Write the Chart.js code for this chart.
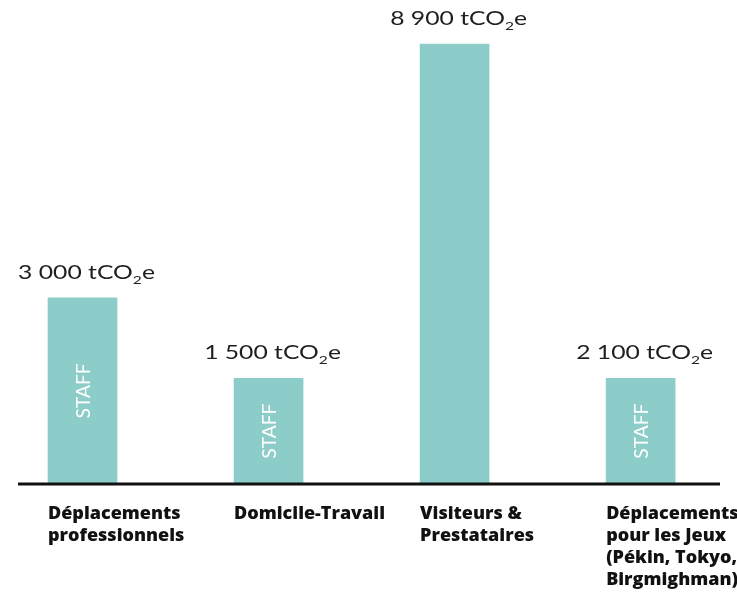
<!DOCTYPE html>
<html>
<head>
<meta charset="utf-8">
<script src="https://cdn.jsdelivr.net/npm/chart.js@4.4.0/dist/chart.umd.min.js"></script>
<style>
  html, body { margin: 0; padding: 0; background: #fff; }
  #wrap { width: 737px; height: 597px; }
</style>
</head>
<body>
<div id="wrap"><canvas id="chart"></canvas></div>
<script>
// categories, each one split in the lines shown under the axis
const categories = [
    ['Déplacements', 'professionnels'],
    ['Domicile-Travail'],
    ['Visiteurs &', 'Prestataires'],
    ['Déplacements', 'pour les Jeux', '(Pékin, Tokyo,', 'Birgmighman)']
];
// value written above each bar (tCO2e)
const emissions = [3000, 1500, 8900, 2100];
// bar heights as drawn in the picture (tallest bar = 100), not proportional to the values
const barHeights = [42.3, 24, 100, 24];
// text inside the bars
const insideLabels = ['STAFF', 'STAFF', '', 'STAFF'];

const barColor = '#8dcdc9';

function fmt(v)
{
    return String(v).replace(/\B(?=(\d{3})+(?!\d))/g, ' ');
}

const labelsPlugin = {
    id: 'labelsPlugin',
    afterDatasetsDraw(chart)
    {
        const ctx = chart.ctx;
        const meta = chart.getDatasetMeta(0);
        const base = chart.scales.y.getPixelForValue(0);

        // axis line
        ctx.save();
        ctx.strokeStyle = '#111';
        ctx.lineWidth = 3;
        ctx.beginPath();
        ctx.moveTo(18, base);
        ctx.lineTo(720, base);
        ctx.stroke();
        ctx.restore();

        meta.data.forEach((bar, i) => {
            let left = bar.x - bar.width / 2;

            // value above bar : "3 000 tCO" + subscript 2 + "e"
            ctx.save();
            ctx.fillStyle = '#1e1e1e';
            ctx.textBaseline = 'alphabetic';
            ctx.textAlign = 'left';
            let bigFont = '400 19px Lato';
            let smallFont = '400 12px Lato';
            let p1 = fmt(emissions[i]) + ' tCO';
            ctx.font = bigFont;
            let w1 = ctx.measureText(p1).width;
            let w3 = ctx.measureText('e').width;
            ctx.font = smallFont;
            let w2 = ctx.measureText('2').width;
            let total = w1 + w2 + w3;
            let stretch = 1.3;
            let yb = bar.y - 19;
            ctx.translate(bar.x + 4, yb);
            ctx.scale(stretch, 1);
            let x0 = -total / 2;
            ctx.font = bigFont;
            ctx.fillText(p1, x0, 0);
            ctx.font = smallFont;
            ctx.fillText('2', x0 + w1, 5);
            ctx.font = bigFont;
            ctx.fillText('e', x0 + w1 + w2, 0);
            ctx.restore();

            // category label under the axis
            ctx.save();
            ctx.fillStyle = '#111';
            ctx.font = '800 18px "Open Sans"';
            ctx.textAlign = 'left';
            ctx.textBaseline = 'alphabetic';
            categories[i].forEach((line, k) => {
                ctx.fillText(line, left, base + 35 + k * 22);
            });
            ctx.restore();

            // text inside bar
            if (insideLabels[i])
            {
                ctx.save();
                ctx.fillStyle = '#ffffff';
                ctx.font = '400 20px Lato';
                ctx.textAlign = 'center';
                ctx.textBaseline = 'middle';
                let tw = ctx.measureText(insideLabels[i]).width;
                ctx.translate(bar.x, (bar.y + base) / 2);
                ctx.rotate(-Math.PI / 2);
                ctx.scale(55 / tw, 1);
                ctx.fillText(insideLabels[i], 0, 1);
                ctx.restore();
            }
        });
    }
};

var ctx = document.getElementById('chart').getContext('2d');
var myChart = new Chart(ctx, {
    type: 'bar',
    data: {
        datasets: [{
            data: barHeights.map((h, i) => ({ x: i, y: h })),
            backgroundColor: barColor,
            borderWidth: 0,
            barThickness: 69
        }]
    },
    options: {
        responsive: true,
        maintainAspectRatio: false,
        animation: false,
        layout: { padding: { top: 0, bottom: 113, left: 0, right: 0 } },
        plugins: {
            legend: { display: false },
            tooltip: { enabled: false }
        },
        scales: {
            x: {
                type: 'linear',
                display: false,
                offset: false,
                min: -0.4435,
                max: 3.518
            },
            y: {
                display: false,
                min: 0,
                max: 110
            }
        }
    },
    plugins: [labelsPlugin]
});
</script>
</body>
</html>
